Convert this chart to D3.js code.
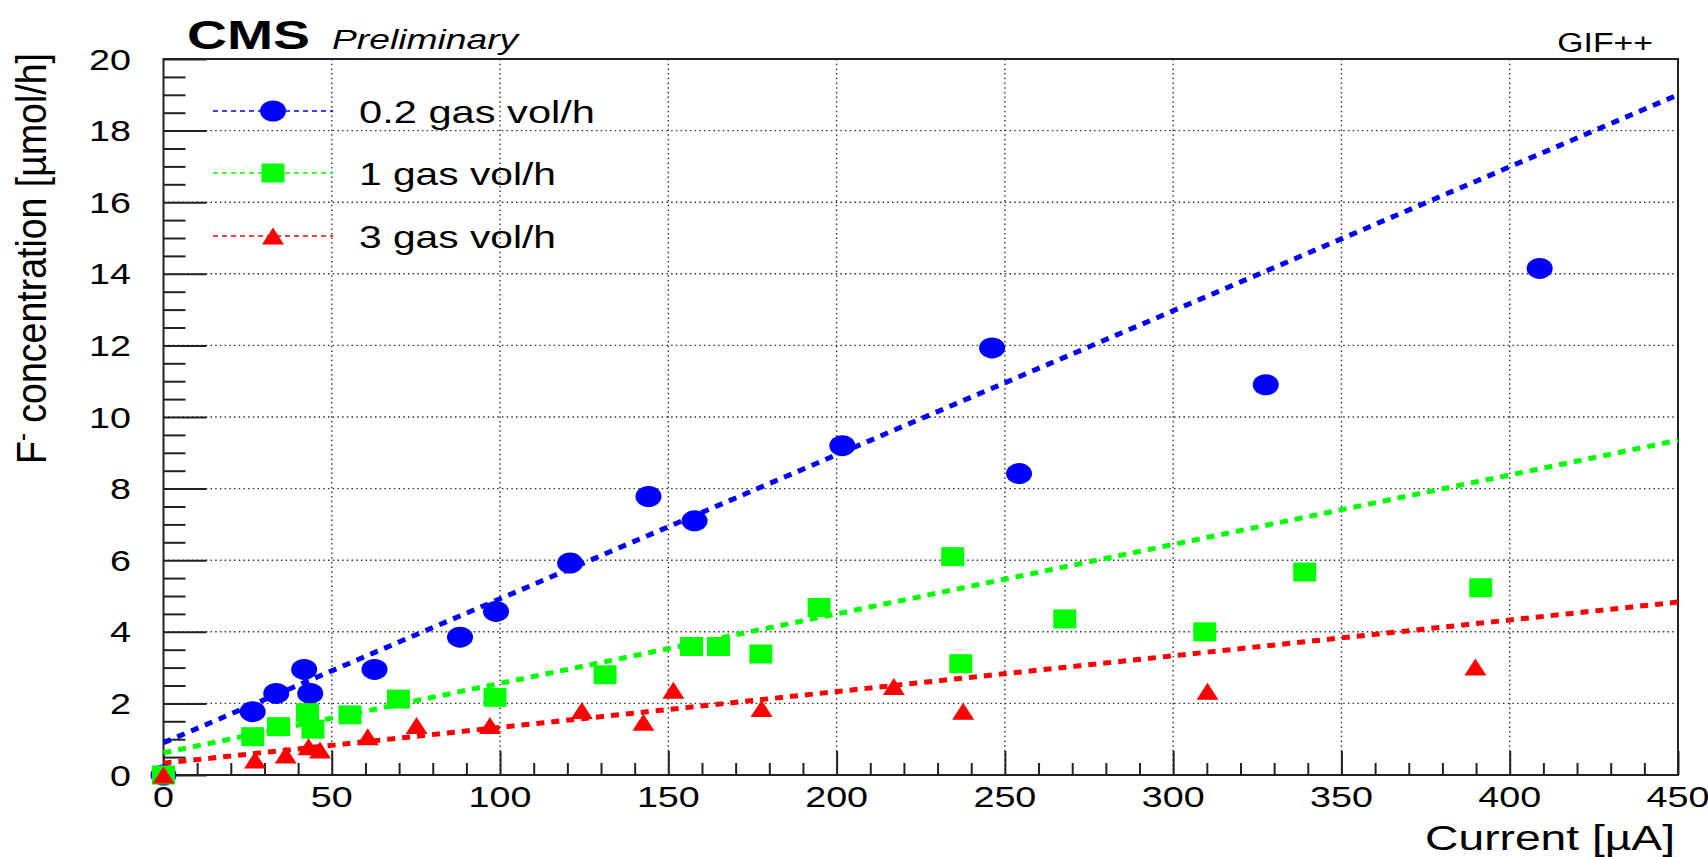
<!DOCTYPE html>
<html>
<head>
<meta charset="utf-8">
<script src="https://cdn.jsdelivr.net/npm/d3@7"></script>
<style>
  html, body { margin: 0; padding: 0; background: #fff; }
  svg { display: block; }
  text { font-family: "Liberation Sans", Arial, Helvetica, sans-serif; fill: #000; }
</style>
</head>
<body>
<svg id="chart" width="1708" height="857"></svg>
<script>
// Fluoride production vs. chamber current at three gas flow rates
const seriesNames = ["0.2 gas vol/h", "1 gas vol/h", "3 gas vol/h"];
const seriesColors = ["#0000ff", "#00ff00", "#ff0000"];
const seriesShapes = ["circle", "square", "triangle"];

const current02 = [0, 26.5, 33.5, 41.8, 43.6, 62.7, 88.1, 98.8, 120.8, 144.1, 157.8, 201.7, 246.2, 254.2, 327.5, 408.9];
const fluor02   = [0, 1.77, 2.28, 2.95, 2.28, 2.95, 3.85, 4.57, 5.92, 7.78, 7.1, 9.2, 11.93, 8.42, 10.9, 14.15];

const current1 = [0, 26.5, 34.2, 42.8, 44.4, 55.4, 69.8, 98.5, 131.2, 156.9, 164.9, 177.5, 194.8, 234.5, 236.9, 267.8, 309.4, 339.1, 391.4];
const fluor1   = [0, 1.07, 1.35, 1.74, 1.28, 1.68, 2.12, 2.17, 2.8, 3.59, 3.59, 3.38, 4.68, 6.1, 3.11, 4.36, 4.0, 5.67, 5.23];

const current3 = [0, 27.2, 36.3, 43.1, 46.5, 60.7, 75.2, 97, 124.3, 142.6, 151.5, 177.7, 217, 237.6, 310.2, 389.8];
const fluor3   = [0, 0.42, 0.56, 0.79, 0.7, 1.07, 1.38, 1.38, 1.8, 1.47, 2.37, 1.86, 2.47, 1.78, 2.34, 3.02];

// Linear fits, given by their value at both ends of the current range
const fitCurrent = [0, 450];
const fitStart = [0.9, 0.62, 0.33];
const fitEnd   = [19.0, 9.35, 4.83];

const xTickValues = [0, 50, 100, 150, 200, 250, 300, 350, 400, 450];
const yTickValues = [0, 2, 4, 6, 8, 10, 12, 14, 16, 18, 20];

const svg = d3.select("#chart");
const plot = { left: 163.5, right: 1678, top: 59, bottom: 775 };

const x = d3.scaleLinear().domain([0, 450]).range([plot.left, plot.right]);
const y = d3.scaleLinear().domain([0, 20]).range([plot.bottom, plot.top]);

// text with a horizontal stretch applied around its anchor point
const SX = 1.3;
function label(g, str, px, py, size, anchor, opts = {}) {
  const t = g.append("text")
    .attr("transform", `translate(${px},${py}) scale(${opts.sx || SX},1)`)
    .attr("text-anchor", anchor)
    .style("font-size", size + "px");
  if (opts.weight) t.style("font-weight", opts.weight);
  if (opts.style) t.style("font-style", opts.style);
  t.text(str);
  return t;
}

// grid
const grid = svg.append("g").attr("stroke", "#333").attr("stroke-width", 1.4)
  .attr("stroke-dasharray", "1.5,3.2").attr("fill", "none");
xTickValues.slice(1, -1).forEach(v => {
  grid.append("line").attr("x1", x(v)).attr("x2", x(v)).attr("y1", plot.top).attr("y2", plot.bottom);
});
yTickValues.slice(1, -1).forEach(v => {
  grid.append("line").attr("x1", plot.left).attr("x2", plot.right).attr("y1", y(v)).attr("y2", y(v));
});

// axes with inward ticks
const xAxis = d3.axisBottom(x).tickValues(xTickValues).tickSize(-24).tickFormat("");
const xMinor = d3.axisBottom(x).tickValues(d3.range(10, 450, 10).filter(v => v % 50)).tickSize(-12).tickFormat("");
const yAxis = d3.axisLeft(y).tickValues(yTickValues).tickSize(-43).tickFormat("");
const yMinor = d3.axisLeft(y).tickValues(d3.range(0.5, 20, 0.5).filter(v => v % 2)).tickSize(-22).tickFormat("");

[ [xAxis, `translate(0,${plot.bottom})`], [xMinor, `translate(0,${plot.bottom})`],
  [yAxis, `translate(${plot.left},0)`], [yMinor, `translate(${plot.left},0)`] ].forEach(([ax, tr]) => {
  const g = svg.append("g").attr("transform", tr).call(ax);
  g.select(".domain").remove();
  g.selectAll(".tick line").attr("stroke", "#222").attr("stroke-width", 2);
});

// frame
svg.append("rect").attr("x", plot.left).attr("y", plot.top)
  .attr("width", plot.right - plot.left).attr("height", plot.bottom - plot.top)
  .attr("fill", "none").attr("stroke", "#222").attr("stroke-width", 2);

// tick labels
const tl = svg.append("g");
xTickValues.forEach(v => label(tl, String(v), x(v), 807, 29, "middle"));
yTickValues.forEach(v => label(tl, String(v), 131, y(v) + 10.5, 29, "end"));

// axis titles
label(svg, "Current [\u00b5A]", 1675, 850, 35, "end", { sx: 1.32 });
const yt = svg.append("text")
  .attr("transform", `translate(46,${plot.top - 6}) rotate(-90) scale(1,1.15)`)
  .attr("text-anchor", "end")
  .style("font-size", "37.5px");
yt.append("tspan").text("F");
yt.append("tspan").attr("dy", -13).style("font-size", "24px").text("-");
yt.append("tspan").attr("dy", 13).text(" concentration [\u00b5mol/h]");

// header
svg.append("text").attr("x", 187).attr("y", 49)
  .style("font-size", "40px").style("font-weight", "bold")
  .attr("textLength", 123).attr("lengthAdjust", "spacingAndGlyphs").text("CMS");
label(svg, "Preliminary", 332, 49, 27, "start", { style: "italic", sx: 1.38 });
label(svg, "GIF++", 1653, 52, 27, "end", { sx: 1.25 });

// markers
function drawMarker(g, shape, color, cx, cy) {
  if (shape === "circle") {
    g.append("ellipse").attr("cx", cx).attr("cy", cy).attr("rx", 13).attr("ry", 10.5).attr("fill", color);
  } else if (shape === "square") {
    g.append("rect").attr("x", cx - 11.5).attr("y", cy - 9.5).attr("width", 23).attr("height", 19).attr("fill", color);
  } else {
    g.append("path").attr("d", `M${cx - 11},${cy + 8.5} L${cx + 11},${cy + 8.5} L${cx},${cy - 8.5} Z`).attr("fill", color);
  }
}

const seriesX = [current02, current1, current3];
const seriesY = [fluor02, fluor1, fluor3];

// fit lines
seriesNames.forEach((name, i) => {
  svg.append("line")
    .attr("x1", x(fitCurrent[0])).attr("y1", y(fitStart[i]))
    .attr("x2", x(fitCurrent[1])).attr("y2", y(fitEnd[i]))
    .attr("stroke", seriesColors[i]).attr("stroke-width", 5)
    .attr("stroke-dasharray", "8,7");
});

// data points
seriesNames.forEach((name, i) => {
  const g = svg.append("g");
  seriesX[i].forEach((cv, k) => drawMarker(g, seriesShapes[i], seriesColors[i], x(cv), y(seriesY[i][k])));
});

// legend
const legendY = [111, 173, 236];
const legendW = [236, 197, 197];
seriesNames.forEach((name, i) => {
  const g = svg.append("g");
  g.append("line").attr("x1", 213).attr("x2", 333).attr("y1", legendY[i]).attr("y2", legendY[i])
    .attr("stroke", seriesColors[i]).attr("stroke-width", 1.5).attr("stroke-dasharray", "5,4");
  drawMarker(g, seriesShapes[i], seriesColors[i], 273, legendY[i]);
  g.append("text").attr("x", 359).attr("y", legendY[i] + 11.5)
    .style("font-size", "32px")
    .attr("textLength", legendW[i]).attr("lengthAdjust", "spacingAndGlyphs")
    .text(name);
});
</script>
</body>
</html>
